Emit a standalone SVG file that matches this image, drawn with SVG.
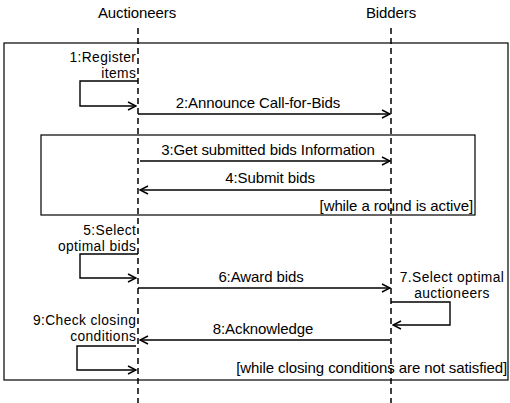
<svg xmlns="http://www.w3.org/2000/svg" width="510" height="403" viewBox="0 0 510 403">
<defs>
<marker id="arr" viewBox="0 0 10 10" refX="9" refY="5" markerWidth="10" markerHeight="10" markerUnits="userSpaceOnUse" orient="auto">
<path d="M1,1 L9,5 L1,9" fill="none" stroke="#000" stroke-width="1.5"/>
</marker>
</defs>
<style>
text{font-family:"Liberation Sans",Arial,sans-serif;font-size:15px;fill:#000;letter-spacing:-0.1px}
text.two{font-size:13.8px;letter-spacing:0.4px}
.r{text-anchor:end}
.m{text-anchor:middle}
.life{stroke:#000;stroke-width:1.5;stroke-dasharray:6 4;fill:none}
.frame{stroke:#000;stroke-width:1.2;fill:none}
.msg{stroke:#000;stroke-width:1.4;fill:none;marker-end:url(#arr)}
</style>
<rect width="510" height="403" fill="#fff"/>
<g id="auctioneers">
<text class="m" x="137" y="18">Auctioneers</text>
<line class="life" x1="138" y1="28" x2="138" y2="403"/>
</g>
<g id="bidders">
<text class="m" x="391" y="18">Bidders</text>
<line class="life" x1="391" y1="28" x2="391" y2="403"/>
</g>
<g id="outer-loop">
<rect class="frame" x="4" y="43" width="504" height="337"/>
<text class="r" x="507" y="373">[while closing conditions are not satisfied]</text>
</g>
<g id="inner-loop">
<rect class="frame" x="41" y="135" width="434" height="80"/>
<text class="r" x="473" y="211">[while a round is active]</text>
</g>
<g id="connectors">
<path class="msg" d="M138,81 H80 V106 H136"/>
<path class="msg" d="M138,114 H390"/>
<path class="msg" d="M140,161 H390"/>
<path class="msg" d="M391,190 H140"/>
<path class="msg" d="M138,254 H80 V278 H136"/>
<path class="msg" d="M138,288 H390"/>
<path class="msg" d="M391,302 H450 V325 H393"/>
<path class="msg" d="M390,340 H140"/>
<path class="msg" d="M136,346 H77 V370 H136"/>
</g>
<g id="labels">
<text class="r two" x="136.3" y="62">1:Register</text>
<text class="r two" x="136.3" y="77.7">items</text>
<text class="m" x="258" y="108">2:Announce Call-for-Bids</text>
<text class="m" x="268" y="155">3:Get submitted bids Information</text>
<text class="m" x="270" y="183">4:Submit bids</text>
<text class="r two" x="136.3" y="235">5:Select</text>
<text class="r two" x="136.3" y="250.7">optimal bids</text>
<text class="m" x="261" y="282">6:Award bids</text>
<text class="m two" x="452" y="282">7.Select optimal</text>
<text class="m two" x="452" y="297.7">auctioneers</text>
<text class="m" x="263" y="334">8:Acknowledge</text>
<text class="r two" x="136.3" y="325">9:Check closing</text>
<text class="r two" x="136.3" y="340.7">conditions</text>
</g>
</svg>
